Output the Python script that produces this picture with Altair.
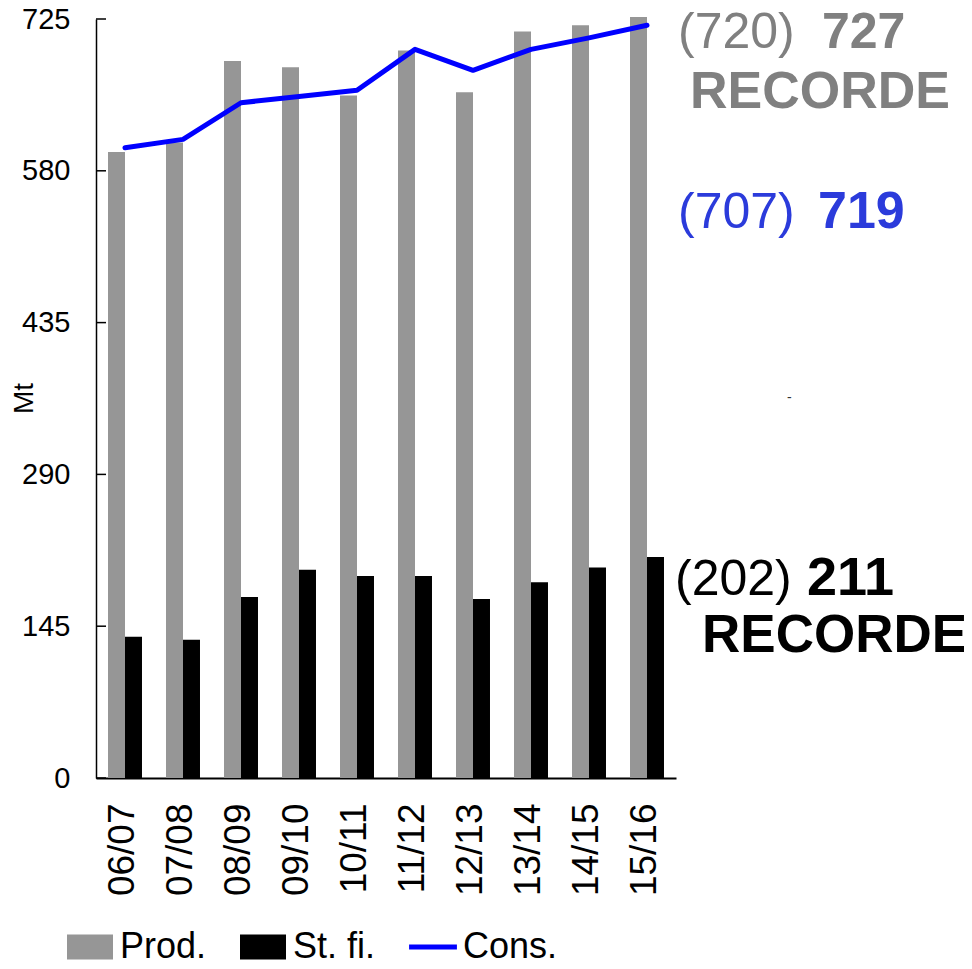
import altair as alt
import pandas as pd

# ---- data ----
seasons = ["06/07", "07/08", "08/09", "09/10", "10/11", "11/12", "12/13", "13/14", "14/15", "15/16"]
prod = [598, 607, 685, 679, 652, 695, 655, 713, 719, 727]
stocks = [135, 132, 173, 199, 193, 193, 171, 187, 201, 211]
cons = [602, 610, 645, 651, 657, 696, 676, 696, 707, 719]
y_ticks = [0, 145, 290, 435, 580, 725]
series_names = ["Prod.", "St. fi.", "Cons."]
series_colors = ["#969696", "#000000", "#0000ff"]

# annotation texts (previous estimate, new estimate, record flag)
ann_prod = ["(720)", "727", "RECORDE"]
ann_cons = ["(707)", "719"]
ann_stock = ["(202)", "211", "RECORDE"]

FONT = "Liberation Sans, Arial, sans-serif"

bar_df = pd.DataFrame(
    [{"season": s, "series": "Prod.", "value": v} for s, v in zip(seasons, prod)]
    + [{"season": s, "series": "St. fi.", "value": v} for s, v in zip(seasons, stocks)]
)
line_df = pd.DataFrame({"season": seasons, "value": cons})
tick_df = pd.DataFrame({"value": y_ticks})
legend_df = pd.DataFrame({"series": series_names})

x_enc = alt.X(
    "season:N",
    sort=seasons,
    scale=alt.Scale(paddingInner=0.414, paddingOuter=0.207),
    axis=alt.Axis(
        title=None, labelAngle=-90, labelFont=FONT, labelFontSize=37,
        labelColor="black", labelPadding=25, tickSize=0, domainColor="black",
        domainWidth=2, labelOffset=-2, grid=False,
    ),
)
y_enc = alt.Y(
    "value:Q",
    scale=alt.Scale(domain=[0, 725], nice=False, zero=True),
    axis=alt.Axis(
        values=y_ticks, title="Mt", titleFont=FONT, titleFontSize=28,
        titleFontWeight="normal", titleColor="black", titleX=-72, titleY=379,
        titleAngle=270, titleAlign="center", titleBaseline="middle",
        labelFont=FONT, labelFontSize=29, labelColor="black", labelPadding=26,
        tickSize=0, domainColor="black", domainWidth=1.5, grid=False,
    ),
)

bars = alt.Chart(bar_df).mark_bar().encode(
    x=x_enc,
    xOffset=alt.XOffset("series:N", sort=["Prod.", "St. fi."], scale=alt.Scale(paddingInner=0, paddingOuter=0)),
    y=y_enc,
    color=alt.Color(
        "series:N",
        scale=alt.Scale(domain=["Prod.", "St. fi."], range=["#969696", "#000000"]),
        legend=None,
    ),
)

line = alt.Chart(line_df).mark_line(
    color="#0000ff", strokeWidth=5, strokeCap="round", strokeJoin="round"
).encode(x=alt.X("season:N", sort=seasons), y="value:Q")

ticks = alt.Chart(tick_df).mark_rule(color="black", strokeWidth=1.5).encode(
    y="value:Q", x=alt.value(0), x2=alt.value(10)
)


def label(text, value, color, weight, size, dx, dy):
    df = pd.DataFrame({"season": [seasons[-1]], "value": [value], "text": [text]})
    return alt.Chart(df).mark_text(
        align="left", baseline="alphabetic", dx=dx, dy=dy, font=FONT,
        fontSize=size, fontWeight=weight, color=color,
    ).encode(x=alt.X("season:N", sort=seasons), y="value:Q", text="text:N")


GRAY_T = "#808080"
BLUE_T = "#2b3bdb"
texts = [
    label(ann_prod[0], prod[-1], GRAY_T, "normal", 50, 31, 31),
    label(ann_prod[1], prod[-1], GRAY_T, "bold", 50, 175, 31),
    label(ann_prod[2], prod[-1], GRAY_T, "bold", 52, 43, 91),
    label(ann_cons[0], cons[-1], BLUE_T, "normal", 50, 31, 203),
    label(ann_cons[1], cons[-1], BLUE_T, "bold", 52, 171, 203),
    label(ann_stock[0], stocks[-1], "#000000", "normal", 50, 28, 38),
    label(ann_stock[1], stocks[-1], "#000000", "bold", 54, 160, 38),
    label(ann_stock[2], stocks[-1], "#000000", "bold", 53, 55, 95),
    label("-", stocks[-1], "#333333", "normal", 14, 140, -155),
]

rect_path = "M-1,-0.54H1V0.54H-1Z"
line_path = "M-1.04,-0.11H1.04V0.11H-1.04Z"
leg = alt.Legend(
    title=None, orient="none", legendX=-29, legendY=905, direction="horizontal",
    symbolSize=2116, symbolStrokeWidth=0, symbolOpacity=1,
    labelFont=FONT, labelFontSize=36, labelColor="black", labelOffset=7,
    columnPadding=33, padding=0, labelLimit=300,
)
legend_layer = alt.Chart(legend_df).transform_filter("false").mark_point(
    filled=True, opacity=1
).encode(
    fill=alt.Fill("series:N", scale=alt.Scale(domain=series_names, range=series_colors), legend=leg),
    shape=alt.Shape("series:N", scale=alt.Scale(domain=series_names, range=[rect_path, rect_path, line_path]), legend=leg),
)

chart = alt.layer(bars, line, ticks, *texts, legend_layer).resolve_scale(
    color="independent"
).properties(
    width=580,
    height=759,
    padding={"left": 88, "top": 11, "right": 288, "bottom": 183},
    autosize=alt.AutoSizeParams(type="none"),
).configure_view(stroke=None)

chart.save("out.html", embed_options={"renderer": "svg", "actions": False})
